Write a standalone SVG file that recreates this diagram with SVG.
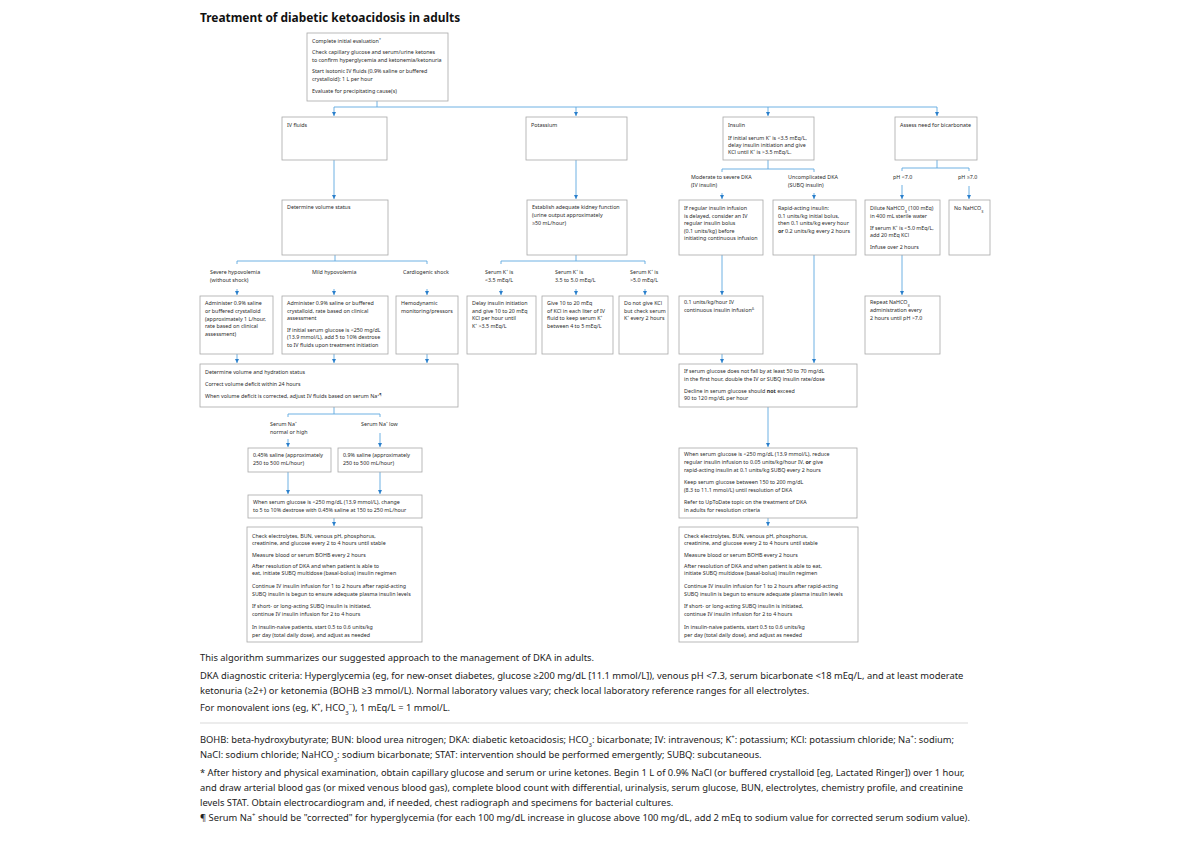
<svg xmlns="http://www.w3.org/2000/svg" width="1200" height="848" viewBox="0 0 1200 848">
<style>
.bx{fill:#fff;stroke:#a8a8a8;stroke-width:0.8}
.t{font-family:"Noto Sans","Open Sans","Liberation Sans",sans-serif;font-size:5.35px;fill:#2b2b2b}
.f{font-family:"Noto Sans","Open Sans","Liberation Sans",sans-serif;font-size:9.35px;fill:#222}
.c{stroke:#5fa8e0;stroke-width:0.9;fill:none}
.a{stroke:#5fa8e0;stroke-width:0.9;fill:none;marker-end:url(#ah)}
.b{font-weight:bold}
</style>
<defs>
<marker id="ah" viewBox="0 0 6 6" refX="6" refY="3" markerWidth="4.5" markerHeight="4.5" orient="auto" markerUnits="userSpaceOnUse">
<path d="M0,0 L6,3 L0,6 z" fill="#2a7fcc"/>
</marker>
</defs>
<rect width="1200" height="848" fill="#fff"/>
<text x="200" y="22" font-family="'Noto Sans','Open Sans',sans-serif" font-weight="bold" font-size="11.9px" fill="#111">Treatment of diabetic ketoacidosis in adults</text>

<g id="connectors">
<path class="c" d="M377,101 V107 M334,107 H937"/>
<path class="a" d="M334,107 V116"/>
<path class="a" d="M576,107 V116"/>
<path class="a" d="M768,107 V116"/>
<path class="a" d="M937,107 V116"/>
<path class="a" d="M334,160 V199"/>
<path class="a" d="M576,160 V199"/>
<path class="c" d="M335,255 V261 M237,264 V261 H427 V264"/>
<path class="a" d="M237,289 V295"/>
<path class="a" d="M334,289 V295"/>
<path class="a" d="M427,289 V295"/>
<path class="c" d="M576,255 V261 M501,264 V261 H645 V264"/>
<path class="a" d="M501,289 V295"/>
<path class="a" d="M576,289 V295"/>
<path class="a" d="M645,289 V295"/>
<path class="c" d="M768,160 V169 M722,172 V169 H814 V172"/>
<path class="a" d="M722,193 V199"/>
<path class="a" d="M814,193 V199"/>
<path class="c" d="M937,160 V168 M902,171 V168 H969 V171"/>
<path class="a" d="M902,185 V199"/>
<path class="a" d="M969,186 V199"/>
<path class="a" d="M237,354 V363"/>
<path class="a" d="M334,354 V363"/>
<path class="a" d="M427,354 V363"/>
<path class="a" d="M722,255 V295"/>
<path class="a" d="M722,354 V363"/>
<path class="a" d="M814,255 V363"/>
<path class="a" d="M902,255 V295"/>
<path class="c" d="M334,407 V414 M288,417 V414 H380 V417"/>
<path class="a" d="M288,439 V447"/>
<path class="a" d="M380,433 V447"/>
<path class="a" d="M288,472 V494"/>
<path class="a" d="M380,472 V494"/>
<path class="a" d="M334,518 V526"/>
<path class="a" d="M768,407 V447"/>
<path class="a" d="M768,518 V526"/>
</g>

<g id="initial">
<rect class="bx" x="307" y="33" width="141" height="68"/>
<text class="t" x="312" y="43">Complete initial evaluation<tspan font-size="3.6px" baseline-shift="super">*</tspan></text>
<text class="t" x="312" y="54">Check capillary glucose and serum/urine ketones</text>
<text class="t" x="312" y="62">to confirm hyperglycemia and ketonemia/ketonuria</text>
<text class="t" x="312" y="73">Start isotonic IV fluids (0.9% saline or buffered</text>
<text class="t" x="312" y="81">crystalloid): 1 L per hour</text>
<text class="t" x="312" y="93">Evaluate for precipitating cause(s)</text>
</g>

<g id="ivfluids">
<rect class="bx" x="282" y="117" width="105" height="43"/>
<text class="t" x="287" y="127">IV fluids</text>
</g>
<g id="potassium">
<rect class="bx" x="526" y="117" width="101" height="43"/>
<text class="t" x="531" y="127">Potassium</text>
</g>
<g id="insulin">
<rect class="bx" x="723" y="117" width="91" height="43"/>
<text class="t" x="728" y="127">Insulin</text>
<text class="t" x="728" y="140">If initial serum K⁺ is &lt;3.5 mEq/L,</text>
<text class="t" x="728" y="147">delay insulin initiation and give</text>
<text class="t" x="728" y="154">KCl until K⁺ is &gt;3.5 mEq/L.</text>
</g>
<g id="bicarb">
<rect class="bx" x="895" y="117" width="82" height="43"/>
<text class="t" x="900" y="127">Assess need for bicarbonate</text>
</g>

<g id="volstatus">
<rect class="bx" x="282" y="200" width="106" height="55"/>
<text class="t" x="287" y="209">Determine volume status</text>
</g>
<g id="kidney">
<rect class="bx" x="527" y="200" width="100" height="55"/>
<text class="t" x="532" y="209">Establish adequate kidney function</text>
<text class="t" x="532" y="217">(urine output approximately</text>
<text class="t" x="532" y="225">≥50 mL/hour)</text>
</g>

<g id="labels">
<text class="t" x="210" y="274">Severe hypovolemia</text>
<text class="t" x="210" y="282">(without shock)</text>
<text class="t" x="312" y="274">Mild hypovolemia</text>
<text class="t" x="403" y="274">Cardiogenic shock</text>
<text class="t" x="485" y="274">Serum K⁺ is</text>
<text class="t" x="485" y="282">&lt;3.5 mEq/L</text>
<text class="t" x="555" y="274">Serum K⁺ is</text>
<text class="t" x="555" y="282">3.5 to 5.0 mEq/L</text>
<text class="t" x="630" y="274">Serum K⁺ is</text>
<text class="t" x="630" y="282">&gt;5.0 mEq/L</text>
<text class="t" x="691" y="179">Moderate to severe DKA</text>
<text class="t" x="691" y="187">(IV insulin)</text>
<text class="t" x="788" y="179">Uncomplicated DKA</text>
<text class="t" x="788" y="187">(SUBQ insulin)</text>
<text class="t" x="893" y="179">pH &lt;7.0</text>
<text class="t" x="958" y="179">pH ≥7.0</text>
<text class="t" x="270" y="426">Serum Na⁺</text>
<text class="t" x="270" y="434">normal or high</text>
<text class="t" x="361" y="426">Serum Na⁺ low</text>
</g>

<g id="severe">
<rect class="bx" x="200" y="296" width="73" height="58"/>
<text class="t" x="205" y="305">Administer 0.9% saline</text>
<text class="t" x="205" y="313">or buffered crystalloid</text>
<text class="t" x="205" y="321">(approximately 1 L/hour,</text>
<text class="t" x="205" y="328">rate based on clinical</text>
<text class="t" x="205" y="336">assessment)</text>
</g>
<g id="mild">
<rect class="bx" x="282" y="296" width="106" height="58"/>
<text class="t" x="287" y="305">Administer 0.9% saline or buffered</text>
<text class="t" x="287" y="313">crystalloid, rate based on clinical</text>
<text class="t" x="287" y="320">assessment</text>
<text class="t" x="287" y="332">If initial serum glucose is &lt;250 mg/dL</text>
<text class="t" x="287" y="339">(13.9 mmol/L), add 5 to 10% dextrose</text>
<text class="t" x="287" y="347">to IV fluids upon treatment initiation</text>
</g>
<g id="cardio">
<rect class="bx" x="396" y="296" width="62" height="58"/>
<text class="t" x="401" y="305">Hemodynamic</text>
<text class="t" x="401" y="313">monitoring/pressors</text>
</g>
<g id="klow">
<rect class="bx" x="467" y="296" width="69" height="58"/>
<text class="t" x="472" y="305">Delay insulin initiation</text>
<text class="t" x="472" y="313">and give 10 to 20 mEq</text>
<text class="t" x="472" y="320">KCl per hour until</text>
<text class="t" x="472" y="328">K⁺ &gt;3.5 mEq/L</text>
</g>
<g id="kmid">
<rect class="bx" x="542" y="296" width="71" height="58"/>
<text class="t" x="547" y="305">Give 10 to 20 mEq</text>
<text class="t" x="547" y="313">of KCl in each liter of IV</text>
<text class="t" x="547" y="320">fluid to keep serum K⁺</text>
<text class="t" x="547" y="328">between 4 to 5 mEq/L</text>
</g>
<g id="khigh">
<rect class="bx" x="619" y="296" width="49" height="58"/>
<text class="t" x="624" y="305">Do not give KCl</text>
<text class="t" x="624" y="313">but check serum</text>
<text class="t" x="624" y="320">K⁺ every 2 hours</text>
</g>

<g id="ivinsulin">
<rect class="bx" x="679" y="200" width="84" height="55"/>
<text class="t" x="684" y="210">If regular insulin infusion</text>
<text class="t" x="684" y="218">is delayed, consider an IV</text>
<text class="t" x="684" y="225">regular insulin bolus</text>
<text class="t" x="684" y="233">(0.1 units/kg) before</text>
<text class="t" x="684" y="240">initiating continuous infusion</text>
</g>
<g id="subq">
<rect class="bx" x="773" y="200" width="83" height="55"/>
<text class="t" x="778" y="210">Rapid-acting insulin:</text>
<text class="t" x="778" y="218">0.1 units/kg initial bolus,</text>
<text class="t" x="778" y="225">then 0.1 units/kg every hour</text>
<text class="t" x="778" y="233"><tspan class="b">or</tspan> 0.2 units/kg every 2 hours</text>
</g>
<g id="dilute">
<rect class="bx" x="865" y="200" width="75" height="55"/>
<text class="t" x="870" y="210">Dilute NaHCO<tspan font-size="3.8px" baseline-shift="sub">3</tspan> (100 mEq)</text>
<text class="t" x="870" y="218">in 400 mL sterile water</text>
<text class="t" x="870" y="230">If serum K⁺ is &lt;5.0 mEq/L,</text>
<text class="t" x="870" y="237">add 20 mEq KCl</text>
<text class="t" x="870" y="249">Infuse over 2 hours</text>
</g>
<g id="nobicarb">
<rect class="bx" x="949" y="200" width="41" height="55"/>
<text class="t" x="954" y="210">No NaHCO<tspan font-size="3.8px" baseline-shift="sub">3</tspan></text>
</g>
<g id="continuous">
<rect class="bx" x="679" y="296" width="84" height="58"/>
<text class="t" x="684" y="304">0.1 units/kg/hour IV</text>
<text class="t" x="684" y="312">continuous insulin infusion<tspan font-size="3.6px" baseline-shift="super">Δ</tspan></text>
</g>
<g id="repeat">
<rect class="bx" x="865" y="296" width="75" height="58"/>
<text class="t" x="870" y="304">Repeat NaHCO<tspan font-size="3.8px" baseline-shift="sub">3</tspan></text>
<text class="t" x="870" y="312">administration every</text>
<text class="t" x="870" y="320">2 hours until pH &gt;7.0</text>
</g>

<g id="hydration">
<rect class="bx" x="200" y="364" width="258" height="43"/>
<text class="t" x="205" y="374">Determine volume and hydration status</text>
<text class="t" x="205" y="386">Correct volume deficit within 24 hours</text>
<text class="t" x="205" y="398">When volume deficit is corrected, adjust IV fluids based on serum Na<tspan font-size="3.6px" baseline-shift="super">+¶</tspan></text>
</g>
<g id="half">
<rect class="bx" x="248" y="448" width="83" height="24"/>
<text class="t" x="253" y="457">0.45% saline (approximately</text>
<text class="t" x="253" y="465">250 to 500 mL/hour)</text>
</g>
<g id="normal">
<rect class="bx" x="338" y="448" width="84" height="24"/>
<text class="t" x="343" y="457">0.9% saline (approximately</text>
<text class="t" x="343" y="465">250 to 500 mL/hour)</text>
</g>
<g id="dextrose">
<rect class="bx" x="248" y="495" width="174" height="23"/>
<text class="t" x="253" y="504">When serum glucose is &lt;250 mg/dL (13.9 mmol/L), change</text>
<text class="t" x="253" y="512">to 5 to 10% dextrose with 0.45% saline at 150 to 250 mL/hour</text>
</g>
<g id="monitorleft">
<rect class="bx" x="247" y="527" width="175" height="115"/>
<text class="t" x="252" y="538">Check electrolytes, BUN, venous pH, phosphorus,</text>
<text class="t" x="252" y="545">creatinine, and glucose every 2 to 4 hours until stable</text>
<text class="t" x="252" y="557">Measure blood or serum BOHB every 2 hours</text>
<text class="t" x="252" y="568">After resolution of DKA and when patient is able to</text>
<text class="t" x="252" y="575">eat, initiate SUBQ multidose (basal-bolus) insulin regimen</text>
<text class="t" x="252" y="588">Continue IV insulin infusion for 1 to 2 hours after rapid-acting</text>
<text class="t" x="252" y="596">SUBQ insulin is begun to ensure adequate plasma insulin levels</text>
<text class="t" x="252" y="608">If short- or long-acting SUBQ insulin is initiated,</text>
<text class="t" x="252" y="616">continue IV insulin infusion for 2 to 4 hours</text>
<text class="t" x="252" y="629">In insulin-naive patients, start 0.5 to 0.6 units/kg</text>
<text class="t" x="252" y="637">per day (total daily dose), and adjust as needed</text>
</g>

<g id="glucosefall">
<rect class="bx" x="679" y="364" width="178" height="43"/>
<text class="t" x="684" y="373">If serum glucose does not fall by at least 50 to 70 mg/dL</text>
<text class="t" x="684" y="381">in the first hour, double the IV or SUBQ insulin rate/dose</text>
<text class="t" x="684" y="393">Decline in serum glucose should <tspan class="b">not</tspan> exceed</text>
<text class="t" x="684" y="400">90 to 120 mg/dL per hour</text>
</g>
<g id="reduce">
<rect class="bx" x="679" y="448" width="178" height="70"/>
<text class="t" x="684" y="456">When serum glucose is &lt;250 mg/dL (13.9 mmol/L), reduce</text>
<text class="t" x="684" y="464">regular insulin infusion to 0.05 units/kg/hour IV, <tspan class="b">or</tspan> give</text>
<text class="t" x="684" y="472">rapid-acting insulin at 0.1 units/kg SUBQ every 2 hours</text>
<text class="t" x="684" y="484">Keep serum glucose between 150 to 200 mg/dL</text>
<text class="t" x="684" y="492">(8.3 to 11.1 mmol/L) until resolution of DKA</text>
<text class="t" x="684" y="504">Refer to UpToDate topic on the treatment of DKA</text>
<text class="t" x="684" y="512">in adults for resolution criteria</text>
</g>
<g id="monitorright">
<rect class="bx" x="679" y="527" width="179" height="115"/>
<text class="t" x="684" y="538">Check electrolytes, BUN, venous pH, phosphorus,</text>
<text class="t" x="684" y="545">creatinine, and glucose every 2 to 4 hours until stable</text>
<text class="t" x="684" y="557">Measure blood or serum BOHB every 2 hours</text>
<text class="t" x="684" y="568">After resolution of DKA and when patient is able to eat,</text>
<text class="t" x="684" y="575">initiate SUBQ multidose (basal-bolus) insulin regimen</text>
<text class="t" x="684" y="588">Continue IV insulin infusion for 1 to 2 hours after rapid-acting</text>
<text class="t" x="684" y="596">SUBQ insulin is begun to ensure adequate plasma insulin levels</text>
<text class="t" x="684" y="608">If short- or long-acting SUBQ insulin is initiated,</text>
<text class="t" x="684" y="616">continue IV insulin infusion for 2 to 4 hours</text>
<text class="t" x="684" y="629">In insulin-naive patients, start 0.5 to 0.6 units/kg</text>
<text class="t" x="684" y="637">per day (total daily dose), and adjust as needed</text>
</g>

<g id="footer">
<text class="f" x="200" y="661">This algorithm summarizes our suggested approach to the management of DKA in adults.</text>
<text class="f" x="200" y="679">DKA diagnostic criteria: Hyperglycemia (eg, for new-onset diabetes, glucose ≥200 mg/dL [11.1 mmol/L]), venous pH &lt;7.3, serum bicarbonate &lt;18 mEq/L, and at least moderate</text>
<text class="f" x="200" y="694">ketonuria (≥2+) or ketonemia (BOHB ≥3 mmol/L). Normal laboratory values vary; check local laboratory reference ranges for all electrolytes.</text>
<text class="f" x="200" y="711">For monovalent ions (eg, K<tspan font-size="6px" baseline-shift="super">+</tspan>, HCO<tspan font-size="6px" baseline-shift="sub">3</tspan><tspan font-size="6px" baseline-shift="super">−</tspan>), 1 mEq/L = 1 mmol/L.</text>
<line x1="200" y1="723" x2="968" y2="723" stroke="#cfcfcf" stroke-width="0.8"/>
<text class="f" x="200" y="743">BOHB: beta-hydroxybutyrate; BUN: blood urea nitrogen; DKA: diabetic ketoacidosis; HCO<tspan font-size="6px" baseline-shift="sub">3</tspan>: bicarbonate; IV: intravenous; K<tspan font-size="6px" baseline-shift="super">+</tspan>: potassium; KCl: potassium chloride; Na<tspan font-size="6px" baseline-shift="super">+</tspan>: sodium;</text>
<text class="f" x="200" y="758">NaCl: sodium chloride; NaHCO<tspan font-size="6px" baseline-shift="sub">3</tspan>: sodium bicarbonate; STAT: intervention should be performed emergently; SUBQ: subcutaneous.</text>
<text class="f" x="200" y="776">* After history and physical examination, obtain capillary glucose and serum or urine ketones. Begin 1 L of 0.9% NaCl (or buffered crystalloid [eg, Lactated Ringer]) over 1 hour,</text>
<text class="f" x="200" y="791">and draw arterial blood gas (or mixed venous blood gas), complete blood count with differential, urinalysis, serum glucose, BUN, electrolytes, chemistry profile, and creatinine</text>
<text class="f" x="200" y="806">levels STAT. Obtain electrocardiogram and, if needed, chest radiograph and specimens for bacterial cultures.</text>
<text class="f" x="200" y="821">¶ Serum Na<tspan font-size="6px" baseline-shift="super">+</tspan> should be "corrected" for hyperglycemia (for each 100 mg/dL increase in glucose above 100 mg/dL, add 2 mEq to sodium value for corrected serum sodium value).</text>
</g>
</svg>
